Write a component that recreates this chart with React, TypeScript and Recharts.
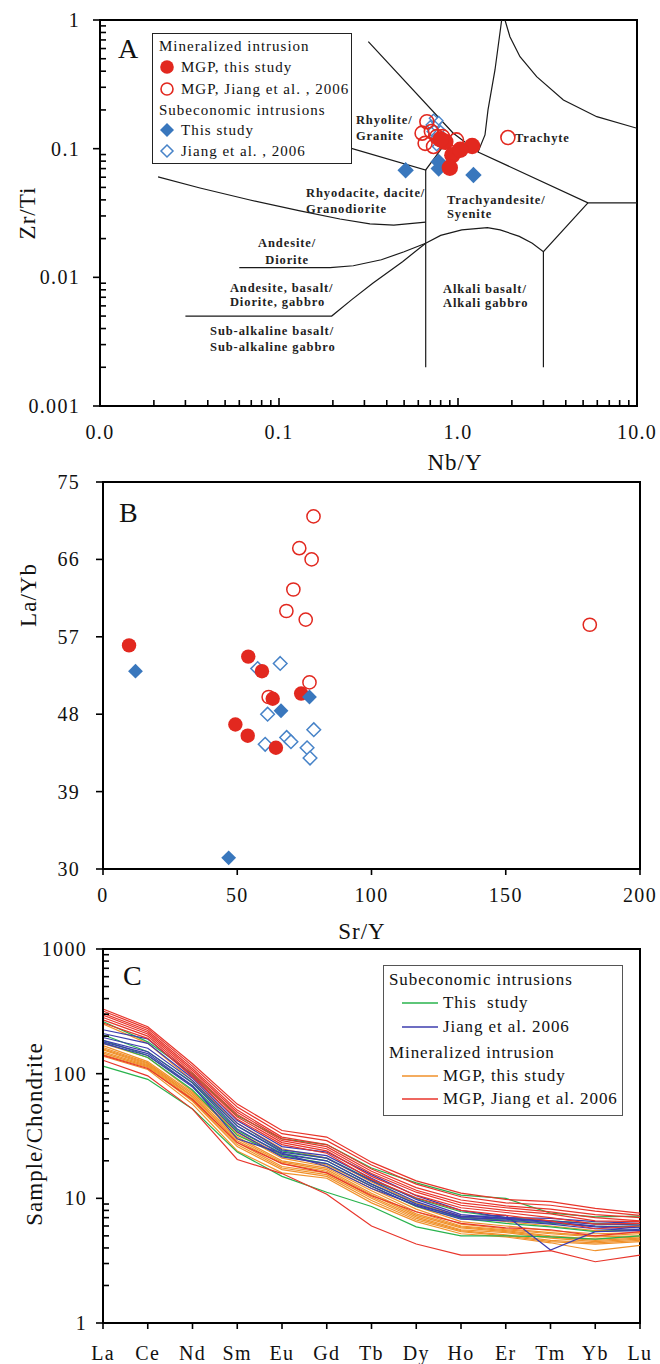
import React from "react";
import {
  ScatterChart,
  Scatter,
  LineChart,
  Line,
  XAxis,
  YAxis,
  ReferenceArea,
  ReferenceDot,
  Legend,
} from "recharts";

const FONT = '"Liberation Serif", "Times New Roman", Times, serif';
const INK = "#111";
const RED = "#e2281f";
const BLUE = "#3977bd";
const BLUE_OPEN = "#4783c8";
const C_GREEN = "#29b34d";
const C_BLUE = "#3c3cae";
const C_ORANGE = "#f0912a";
const C_RED = "#e8352b";

// ---------- panel A : Zr/Ti vs Nb/Y ----------
const aXTicks = [0.01, 0.1, 1, 10];
const aXTickLabels = ["0.0", "0.1", "1.0", "10.0"];
const aYTicks = [0.001, 0.01, 0.1, 1];
const aYTickLabels = ["0.001", "0.01", "0.1", "1"];

const aMgpThisNbY = [0.85, 0.93, 0.9, 1.2, 1.03, 0.8];
const aMgpThisZrTi = [0.113, 0.089, 0.071, 0.105, 0.098, 0.118];
const aMgpJiangNbY = [1.9, 0.67, 0.63, 0.655, 0.73, 0.71, 0.98, 0.76, 0.82];
const aMgpJiangZrTi = [0.122, 0.162, 0.132, 0.11, 0.104, 0.136, 0.117, 0.124, 0.124];
const aSubThisNbY = [0.51, 0.78, 1.22, 0.78];
const aSubThisZrTi = [0.068, 0.07, 0.0625, 0.079];
const aSubJiangNbY = [0.73, 0.7, 0.76, 0.71, 0.8, 0.74, 0.76, 0.78];
const aSubJiangZrTi = [0.172, 0.153, 0.157, 0.136, 0.14, 0.12, 0.104, 0.165];

// field boundaries (Nb/Y, Zr/Ti)
const bGranodioriteNbY = [0.0211, 0.0362, 0.0689, 0.131, 0.219, 0.322, 0.438, 0.66];
const bGranodioriteZrTi = [0.0603, 0.0495, 0.0399, 0.0328, 0.0284, 0.026, 0.0255, 0.0269];
const bRhyoliteNbY = [0.22, 0.66, 0.938];
const bRhyoliteZrTi = [0.1066, 0.0683, 0.1324];
const bDiagonalNbY = [0.3155, 0.938, 1.293, 5.32, 10];
const bDiagonalZrTi = [0.678, 0.1324, 0.0943, 0.0379, 0.0379];
const bTrachyteNbY = [1.754, 1.609, 1.471, 1.415, 1.293];
const bTrachyteZrTi = [1.0, 0.409, 0.2, 0.1278, 0.0943];
const bUpperNbY = [1.83, 1.95, 2.22, 2.75, 3.88, 5.96, 10];
const bUpperZrTi = [1.0, 0.742, 0.519, 0.3625, 0.239, 0.1773, 0.144];
const bVert1NbY = [0.66, 0.66];
const bVert1ZrTi = [0.0683, 0.002];
const bVert2NbY = [3.0, 3.0];
const bVert2ZrTi = [0.0158, 0.002];
const bAlkaliNbY = [0.66, 0.8, 1.05, 1.46, 1.72, 2.2, 2.6, 3.0, 5.32];
const bAlkaliZrTi = [0.0184, 0.0212, 0.0234, 0.0243, 0.0234, 0.0208, 0.0184, 0.0158, 0.0379];
const bAndesiteNbY = [0.06, 0.193, 0.26, 0.373, 0.5, 0.66];
const bAndesiteZrTi = [0.0119, 0.0119, 0.0123, 0.0137, 0.0158, 0.0184];
const bBasaltNbY = [0.03, 0.197, 0.254, 0.334, 0.49, 0.66];
const bBasaltZrTi = [0.005, 0.005, 0.00668, 0.009, 0.01324, 0.0184];

const fieldText = [
  ["Rhyolite/", "Granite"],
  ["Trachyte"],
  ["Rhyodacite, dacite/", "Granodiorite"],
  ["Trachyandesite/", "Syenite"],
  ["Andesite/", "Diorite"],
  ["Andesite, basalt/", "Diorite, gabbro"],
  ["Sub-alkaline basalt/", "Sub-alkaline gabbro"],
  ["Alkali basalt/", "Alkali gabbro"],
];
const fieldNbY = [0.269, 2.08, 0.1416, 0.868, 0.111, 0.0532, 0.0412, 0.8245];
const fieldZrTi = [0.1555, 0.1127, 0.0421, 0.0372, 0.01707, 0.00763, 0.00357, 0.0075];
const fieldAnchor = ["start", "start", "start", "start", "middle", "start", "start", "start"];
const fieldGap = [16, 0, 16, 14, 16.5, 14, 16, 14];

// ---------- panel B : La/Yb vs Sr/Y ----------
const bXTicks = [0, 50, 100, 150, 200];
const bYTicks = [30, 39, 48, 57, 66, 75];
const bMgpThisSrY = [9.7, 54.1, 59.2, 63.2, 73.8, 49.3, 53.9, 64.4];
const bMgpThisLaYb = [56.0, 54.7, 53.0, 49.8, 50.4, 46.8, 45.5, 44.1];
const bMgpJiangSrY = [78.4, 73.1, 77.7, 70.9, 68.3, 75.5, 76.9, 61.7, 181.3];
const bMgpJiangLaYb = [71.0, 67.3, 66.0, 62.5, 60.0, 59.0, 51.7, 50.0, 58.4];
const bSubThisSrY = [12.1, 66.3, 76.9, 46.8];
const bSubThisLaYb = [53.0, 48.4, 50.0, 31.3];
const bSubJiangSrY = [66.0, 61.3, 60.4, 68.4, 70.0, 78.5, 76.0, 77.1, 57.6];
const bSubJiangLaYb = [53.9, 48.0, 44.5, 45.3, 44.8, 46.2, 44.1, 42.9, 53.3];

// ---------- panel C : chondrite-normalised REE ----------
const cYTicks = [1, 10, 100, 1000];
const reeElements = ["La", "Ce", "Nd", "Sm", "Eu", "Gd", "Tb", "Dy", "Ho", "Er", "Tm", "Yb", "Lu"];
const reeSubThis = [
  [262, 180, 100, 46, 30, 27, 17.5, 13.3, 10.6, 10.0, 7.6, 7.1, 7.2],
  [205, 150, 85, 38, 24, 21, 14, 10.0, 7.8, 7.0, 6.6, 6.3, 6.1],
  [185, 140, 80, 35, 23, 20, 13, 9.0, 7.0, 6.7, 6.3, 6.0, 5.9],
  [178, 135, 74, 32, 22, 19, 12.5, 8.6, 6.9, 6.3, 5.9, 5.4, 5.6],
  [115, 90, 52, 23.5, 15, 11.2, 8.6, 5.9, 5.0, 5.0, 4.9, 4.7, 5.0],
];
const reeSubJiang = [
  [225, 190, 96, 42, 26, 23.5, 15.5, 10.5, 8.0, 7.0, 6.9, 6.5, 6.3],
  [210, 175, 92, 40, 24.5, 22, 14.5, 9.8, 7.4, 6.9, 6.6, 6.2, 6.1],
  [195, 160, 88, 38, 23.5, 21, 13.8, 9.4, 7.2, 6.9, 6.5, 6.0, 5.8],
  [185, 150, 84, 36, 22.5, 20, 13, 9.0, 7.0, 6.8, 6.4, 5.9, 5.6],
  [180, 145, 80, 30, 23, 18, 12, 8.8, 7.1, 7.3, 3.85, 5.4, 5.5],
  [175, 140, 78, 34, 21.5, 19, 12.5, 8.7, 6.8, 6.6, 6.2, 5.7, 5.5],
];
const reeMgpThis = [
  [250, 175, 88, 40, 25, 21, 13.5, 9.2, 7.2, 6.5, 6.0, 5.5, 5.6],
  [175, 135, 72, 34, 22, 18.5, 12.5, 8.6, 6.5, 6.0, 5.5, 5.2, 5.3],
  [168, 125, 70, 33, 21, 18, 12, 8.2, 6.2, 5.7, 5.3, 5.0, 5.2],
  [162, 122, 68, 31, 20, 17.5, 11.5, 7.8, 6.0, 5.6, 5.2, 4.9, 5.0],
  [158, 120, 66, 30, 19.5, 17, 11, 7.5, 5.9, 5.5, 5.0, 4.7, 4.9],
  [155, 118, 65, 29, 19, 16.5, 10.7, 7.3, 5.8, 5.4, 4.9, 4.6, 4.8],
  [150, 116, 63, 28, 18, 16, 10.3, 7.1, 5.6, 5.3, 4.8, 4.5, 4.7],
  [146, 114, 61, 27, 17.5, 15.5, 10, 6.9, 5.5, 5.1, 4.6, 4.4, 4.6],
  [142, 112, 60, 26, 17, 15, 9.6, 6.7, 5.4, 5.0, 4.5, 4.3, 4.5],
  [138, 108, 57, 24, 16, 14.5, 9.2, 6.5, 5.2, 4.9, 4.4, 3.8, 4.2],
];
const reeMgpJiang = [
  [330, 238, 120, 57, 35, 31, 19.5, 13.8, 11.0, 9.8, 9.4, 8.3, 7.6],
  [318, 230, 115, 54, 33, 29, 18.5, 13.0, 10.3, 9.2, 8.8, 7.9, 7.3],
  [305, 222, 110, 51, 31, 27, 17.2, 12.2, 9.7, 8.7, 8.2, 7.4, 7.0],
  [295, 215, 106, 49, 30, 26, 16.5, 11.6, 9.2, 8.4, 7.8, 7.0, 6.6],
  [282, 208, 102, 47, 29, 25, 15.8, 11.2, 8.8, 8.0, 7.5, 6.6, 6.5],
  [270, 200, 98, 45, 28, 24, 15, 10.6, 8.4, 7.7, 7.0, 6.2, 6.3],
  [255, 192, 94, 43, 27, 23, 14.2, 10.1, 8.0, 7.3, 6.6, 5.7, 6.0],
  [140, 110, 62, 28, 19, 16, 10.5, 7.8, 6.3, 5.8, 5.6, 5.0, 5.4],
  [128, 96, 52, 20.5, 15.8, 10.8, 6.0, 4.3, 3.5, 3.5, 3.8, 3.1, 3.5],
];

const reeGroups = [
  { id: "mt", color: C_ORANGE, lines: reeMgpThis },
  { id: "st", color: C_GREEN, lines: reeSubThis },
  { id: "sj", color: C_BLUE, lines: reeSubJiang },
  { id: "mj", color: C_RED, lines: reeMgpJiang },
];

const reeRows = reeElements.map((el, i) => {
  const row: Record<string, string | number> = { el };
  reeGroups.forEach((g) => g.lines.forEach((vals, j) => (row[`${g.id}${j}`] = vals[i])));
  return row;
});

const zip = (xs: number[], ys: number[]) => xs.map((x, i) => ({ x, y: ys[i] }));

// majors plus 2..9 minor ticks in each decade
function withMinors(majors: number[]) {
  const out: number[] = [];
  majors.forEach((m, i) => {
    out.push(m);
    if (i < majors.length - 1) for (let k = 2; k <= 9; k++) out.push(+(m * k).toPrecision(6));
  });
  return out;
}

type TickProps = {
  x?: number;
  y?: number;
  payload?: { value: number | string };
  side: "bottom" | "left";
  majors?: number[];
  labels?: string[];
  majorIn?: number;
  majorOut?: number;
  minorIn?: number;
  minorOut?: number;
  gap: number;
};

function AxisTick(p: TickProps) {
  const x = p.x ?? 0;
  const y = p.y ?? 0;
  const v = p.payload?.value;
  let label: string | null = String(v);
  let major = true;
  if (p.majors) {
    const idx = p.majors.findIndex((m) => typeof v === "number" && Math.abs(m - v) <= Math.abs(m) * 1e-6 + 1e-12);
    major = idx >= 0;
    label = major ? (p.labels ? p.labels[idx] : String(v)) : null;
  }
  const tin = major ? p.majorIn ?? 0 : p.minorIn ?? 0;
  const tout = major ? p.majorOut ?? 0 : p.minorOut ?? 0;
  const txt = { fontFamily: FONT, fontSize: 20, letterSpacing: 1.3, fill: INK };
  if (p.side === "bottom") {
    return (
      <g>
        <line x1={x} x2={x} y1={y - tin} y2={y + tout} stroke="#000" strokeWidth={1.6} />
        {label !== null && (
          <text x={x} y={y + p.gap} textAnchor="middle" {...txt}>
            {label}
          </text>
        )}
      </g>
    );
  }
  return (
    <g>
      <line x1={x - tout} x2={x + tin} y1={y} y2={y} stroke="#000" strokeWidth={1.6} />
      {label !== null && (
        <text x={x - p.gap} y={y + 7} textAnchor="end" {...txt}>
          {label}
        </text>
      )}
    </g>
  );
}

type TitleItem = { text: string; x: number; y: number; rotate?: boolean; size?: number };

function Titles({ items }: { items: TitleItem[] }) {
  return (
    <g>
      {items.map((t) => (
        <text
          key={t.text}
          x={t.x}
          y={t.y}
          textAnchor={t.rotate ? "middle" : t.size ? "start" : "middle"}
          dominantBaseline={t.rotate ? "central" : undefined}
          transform={t.rotate ? `rotate(-90 ${t.x} ${t.y})` : undefined}
          fontFamily={FONT}
          fontSize={t.size ?? 23}
          letterSpacing={t.size ? 0 : 1}
          fill={INK}
        >
          {t.text}
        </text>
      ))}
    </g>
  );
}

const circle = (r: number, fill: string, stroke: string, sw: number) => (p: any) =>
  <circle cx={p.cx} cy={p.cy} r={r} fill={fill} stroke={stroke} strokeWidth={sw} />;

const diamond = (h: number, fill: string, stroke: string, sw: number) => (p: any) =>
  (
    <path
      d={`M${p.cx},${p.cy - h}L${p.cx + h},${p.cy}L${p.cx},${p.cy + h}L${p.cx - h},${p.cy}Z`}
      fill={fill}
      stroke={stroke}
      strokeWidth={sw}
    />
  );

const noDot = () => <g />;

function FieldLabel(props: any) {
  const { cx, cy, lines, anchor, gap } = props;
  return (
    <text
      x={cx}
      y={cy}
      textAnchor={anchor}
      fontFamily={FONT}
      fontWeight="bold"
      fontSize={12.5}
      letterSpacing={0.9}
      fill="#222"
    >
      {lines.map((l: string, i: number) => (
        <tspan key={l} x={cx} dy={i === 0 ? 0 : gap}>
          {l}
        </tspan>
      ))}
    </text>
  );
}

function LegendMarker({ kind }: { kind: string }) {
  return (
    <svg width={16} height={16} style={{ position: "absolute", left: 6, top: -8 }}>
      {kind === "rf" && <circle cx={8} cy={8} r={6.8} fill={RED} />}
      {kind === "ro" && <circle cx={8} cy={8} r={6} fill="none" stroke={RED} strokeWidth={1.6} />}
      {kind === "bf" && <path d="M8,1L15,8L8,15L1,8Z" fill={BLUE} />}
      {kind === "bo" && <path d="M8,2L14,8L8,14L2,8Z" fill="none" stroke={BLUE_OPEN} strokeWidth={1.5} />}
    </svg>
  );
}

const legendARows = [
  { text: "Mineralized intrusion", y: 12, kind: "" },
  { text: "MGP, this study", y: 33, kind: "rf" },
  { text: "MGP, Jiang et al. , 2006", y: 55, kind: "ro" },
  { text: "Subeconomic intrusions", y: 76, kind: "" },
  { text: "This study", y: 96, kind: "bf" },
  { text: "Jiang et al. , 2006", y: 117, kind: "bo" },
];

function LegendA() {
  return (
    <div
      style={{
        width: 200,
        height: 131,
        boxSizing: "border-box",
        border: "1.5px solid #222",
        background: "#fff",
        position: "relative",
        fontFamily: FONT,
        fontSize: 15,
        letterSpacing: 1,
        color: INK,
      }}
    >
      {legendARows.map((r) => (
        <div key={r.text} style={{ position: "absolute", top: r.y, left: 0, width: "100%", height: 0 }}>
          {r.kind && <LegendMarker kind={r.kind} />}
          <span
            style={{
              position: "absolute",
              left: r.kind ? 28 : 6,
              top: -10,
              lineHeight: "20px",
              whiteSpace: "nowrap",
            }}
          >
            {r.text}
          </span>
        </div>
      ))}
    </div>
  );
}

const legendCRows = [
  { text: "Subeconomic intrusions", y: 14, color: "" },
  { text: "This  study", y: 37, color: C_GREEN },
  { text: "Jiang et al. 2006", y: 61, color: C_BLUE },
  { text: "Mineralized intrusion", y: 87, color: "" },
  { text: "MGP, this study", y: 110, color: C_ORANGE },
  { text: "MGP, Jiang et al. 2006", y: 133, color: C_RED },
];

function LegendC() {
  return (
    <div
      style={{
        width: 240,
        height: 151,
        boxSizing: "border-box",
        border: "1.5px solid #555",
        background: "#fff",
        position: "relative",
        fontFamily: FONT,
        fontSize: 17,
        letterSpacing: 0.9,
        color: INK,
      }}
    >
      {legendCRows.map((r) => (
        <div key={r.text} style={{ position: "absolute", top: r.y, left: 0, width: "100%", height: 0 }}>
          {r.color && (
            <svg width={36} height={4} style={{ position: "absolute", left: 18, top: -2 }}>
              <line x1={0} x2={36} y1={2} y2={2} stroke={r.color} strokeWidth={1.6} />
            </svg>
          )}
          <span
            style={{
              position: "absolute",
              left: r.color ? 59 : 5,
              top: -11,
              lineHeight: "22px",
              whiteSpace: "pre",
            }}
          >
            {r.text}
          </span>
        </div>
      ))}
    </div>
  );
}

const boundaryStyle = { stroke: "#1a1a1a", strokeWidth: 1.2 };
const axisLineStyle = { stroke: "#000", strokeWidth: 2 };

function PanelA() {
  const boundaries = [
    zip(bGranodioriteNbY, bGranodioriteZrTi),
    zip(bRhyoliteNbY, bRhyoliteZrTi),
    zip(bDiagonalNbY, bDiagonalZrTi),
    zip(bTrachyteNbY, bTrachyteZrTi),
    zip(bUpperNbY, bUpperZrTi),
    zip(bVert1NbY, bVert1ZrTi),
    zip(bVert2NbY, bVert2ZrTi),
    zip(bAlkaliNbY, bAlkaliZrTi),
    zip(bAndesiteNbY, bAndesiteZrTi),
    zip(bBasaltNbY, bBasaltZrTi),
  ];
  return (
    <ScatterChart width={660} height={480} margin={{ top: 20, right: 23, bottom: 0, left: 0 }}>
      <XAxis
        type="number"
        dataKey="x"
        scale="log"
        domain={[0.01, 10]}
        allowDataOverflow
        ticks={withMinors(aXTicks)}
        interval={0}
        height={74}
        axisLine={axisLineStyle}
        tickLine={false}
        tickSize={0}
        tickMargin={0}
        tick={<AxisTick side="bottom" majors={aXTicks} labels={aXTickLabels} majorIn={8} minorIn={6} gap={33} />}
        label={{ content: () => <Titles items={[{ text: "Nb/Y", x: 455, y: 470 }]} /> }}
      />
      <YAxis
        type="number"
        dataKey="y"
        scale="log"
        domain={[0.001, 1]}
        allowDataOverflow
        ticks={withMinors(aYTicks)}
        interval={0}
        width={100}
        axisLine={axisLineStyle}
        tickLine={false}
        tickSize={0}
        tickMargin={0}
        tick={
          <AxisTick side="left" majors={aYTicks} labels={aYTickLabels} majorOut={7} minorIn={6} gap={20} />
        }
        label={{
          content: () => (
            <Titles
              items={[
                { text: "Zr/Ti", x: 27, y: 213, rotate: true },
                { text: "A", x: 118, y: 58, size: 28 },
              ]}
            />
          ),
        }}
      />
      <ReferenceArea x1={0.01} x2={10} y1={0.001} y2={1} fill="none" stroke="#000" strokeWidth={2} />
      {boundaries.map((b, i) => (
        <Scatter
          key={`bd${i}`}
          data={b}
          line={boundaryStyle}
          lineType="joint"
          shape={noDot}
          fill="none"
          isAnimationActive={false}
        />
      ))}
      {fieldText.map((lines, i) => (
        <ReferenceDot
          key={lines[0]}
          x={fieldNbY[i]}
          y={fieldZrTi[i]}
          r={0}
          shape={(p: any) => <FieldLabel {...p} lines={lines} anchor={fieldAnchor[i]} gap={fieldGap[i]} />}
        />
      ))}
      <Scatter
        data={zip(aSubJiangNbY, aSubJiangZrTi)}
        shape={diamond(4.2, "#fff", BLUE_OPEN, 1.4)}
        isAnimationActive={false}
      />
      <Scatter
        data={zip(aSubThisNbY, aSubThisZrTi)}
        shape={diamond(8.2, BLUE, "none", 0)}
        isAnimationActive={false}
      />
      <Scatter
        data={zip(aMgpJiangNbY, aMgpJiangZrTi)}
        shape={circle(7, "none", RED, 1.6)}
        isAnimationActive={false}
      />
      <Scatter
        data={zip(aMgpThisNbY, aMgpThisZrTi)}
        shape={circle(8.2, RED, "none", 0)}
        isAnimationActive={false}
      />
      <Legend
        layout="horizontal"
        verticalAlign="middle"
        align="center"
        wrapperStyle={{ left: 152, top: 33, width: 200, height: 131 }}
        content={() => <LegendA />}
      />
    </ScatterChart>
  );
}

function PanelB() {
  return (
    <ScatterChart width={660} height={520} margin={{ top: 42, right: 20, bottom: 0, left: 0 }}>
      <XAxis
        type="number"
        dataKey="x"
        domain={[0, 200]}
        allowDataOverflow
        ticks={bXTicks}
        interval={0}
        height={91}
        axisLine={axisLineStyle}
        tickLine={false}
        tickSize={0}
        tickMargin={0}
        tick={<AxisTick side="bottom" majorOut={6} gap={33} />}
        label={{ content: () => <Titles items={[{ text: "Sr/Y", x: 362, y: 499 }]} /> }}
      />
      <YAxis
        type="number"
        dataKey="y"
        domain={[30, 75]}
        allowDataOverflow
        ticks={bYTicks}
        interval={0}
        width={103}
        axisLine={axisLineStyle}
        tickLine={false}
        tickSize={0}
        tickMargin={0}
        tick={<AxisTick side="left" majorOut={7} gap={23} />}
        label={{
          content: () => (
            <Titles
              items={[
                { text: "La/Yb", x: 28, y: 155, rotate: true },
                { text: "B", x: 119, y: 82, size: 28 },
              ]}
            />
          ),
        }}
      />
      <ReferenceArea x1={0} x2={200} y1={30} y2={75} fill="none" stroke="#000" strokeWidth={2} />
      <Scatter
        data={zip(bSubJiangSrY, bSubJiangLaYb)}
        shape={diamond(6.8, "#fff", BLUE_OPEN, 1.5)}
        isAnimationActive={false}
      />
      <Scatter
        data={zip(bMgpJiangSrY, bMgpJiangLaYb)}
        shape={circle(6.6, "none", RED, 1.5)}
        isAnimationActive={false}
      />
      <Scatter
        data={zip(bMgpThisSrY, bMgpThisLaYb)}
        shape={circle(7.2, RED, "none", 0)}
        isAnimationActive={false}
      />
      <Scatter
        data={zip(bSubThisSrY, bSubThisLaYb)}
        shape={diamond(7.4, BLUE, "none", 0)}
        isAnimationActive={false}
      />
    </ScatterChart>
  );
}

function PanelC() {
  return (
    <LineChart width={660} height={464} data={reeRows} margin={{ top: 49, right: 20, bottom: 0, left: 0 }}>
      <XAxis
        dataKey="el"
        type="category"
        scale="point"
        padding={{ left: 0, right: 0 }}
        interval={0}
        height={41}
        axisLine={axisLineStyle}
        tickLine={false}
        tickSize={0}
        tickMargin={0}
        tick={<AxisTick side="bottom" majorOut={6} gap={37} />}
      />
      <YAxis
        type="number"
        scale="log"
        domain={[1, 1000]}
        allowDataOverflow
        ticks={withMinors(cYTicks)}
        interval={0}
        width={103}
        axisLine={axisLineStyle}
        tickLine={false}
        tickSize={0}
        tickMargin={0}
        tick={<AxisTick side="left" majors={cYTicks} majorOut={7} minorIn={6} gap={16} />}
        label={{
          content: () => (
            <Titles
              items={[
                { text: "Sample/Chondrite", x: 34, y: 234, rotate: true },
                { text: "C", x: 123, y: 85, size: 28 },
              ]}
            />
          ),
        }}
      />
      <ReferenceArea x1="La" x2="Lu" y1={1} y2={1000} fill="none" stroke="#000" strokeWidth={2} />
      {reeGroups.map((g) =>
        g.lines.map((_, j) => (
          <Line
            key={`${g.id}${j}`}
            dataKey={`${g.id}${j}`}
            stroke={g.color}
            strokeWidth={1.2}
            dot={false}
            isAnimationActive={false}
          />
        ))
      )}
      <Legend
        layout="horizontal"
        verticalAlign="middle"
        align="center"
        wrapperStyle={{ left: 383, top: 65, width: 240, height: 151 }}
        content={() => <LegendC />}
      />
    </LineChart>
  );
}

export default function App() {
  return (
    <div style={{ position: "absolute", left: 0, top: 0, width: 660, height: 1364, background: "#fff" }}>
      <div style={{ position: "absolute", left: 0, top: 0 }}>
        <PanelA />
      </div>
      <div style={{ position: "absolute", left: 0, top: 440 }}>
        <PanelB />
      </div>
      <div style={{ position: "absolute", left: 0, top: 900 }}>
        <PanelC />
      </div>
    </div>
  );
}
